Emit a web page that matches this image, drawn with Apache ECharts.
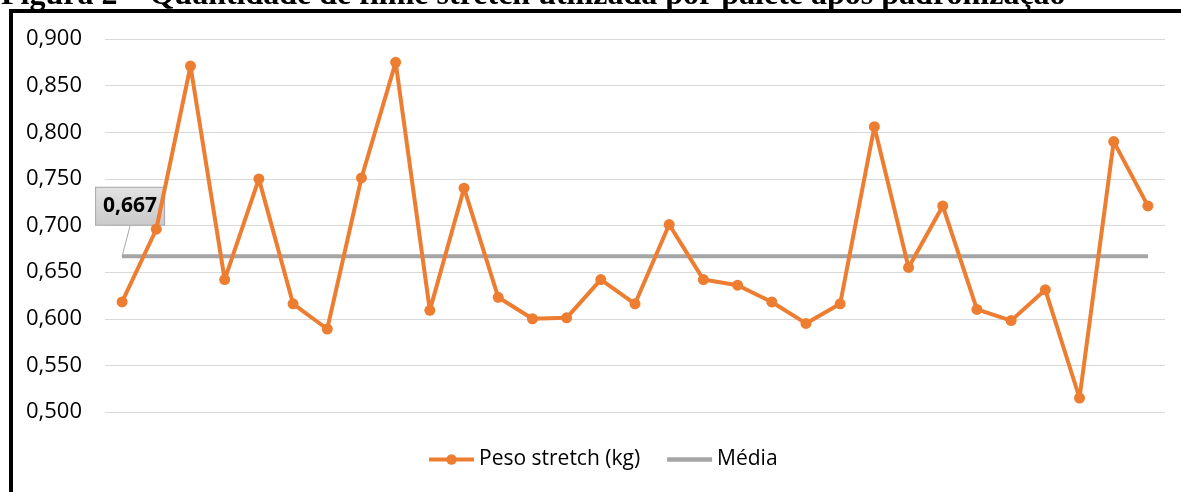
<!DOCTYPE html>
<html>
<head>
<meta charset="utf-8">
<script src="https://cdn.jsdelivr.net/npm/echarts@6/dist/echarts.min.js"></script>
<style>
  html, body { margin: 0; padding: 0; background: #ffffff; overflow: hidden; }
  #wrap { position: relative; width: 1181px; height: 492px; overflow: hidden; background: #fff; }
  #frame { position: absolute; left: 9px; top: 9px; width: 1300px; height: 600px; border: 4px solid #000; box-sizing: border-box; }
  #chart { position: absolute; left: 0; top: 0; width: 1181px; height: 492px; }
</style>
</head>
<body>
<div id="wrap">
  <div id="frame"></div>
  <div id="chart"></div>
</div>
<script>
// ---- data ----
const categories = ['1','2','3','4','5','6','7','8','9','10','11','12','13','14','15','16','17','18','19','20','21','22','23','24','25','26','27','28','29','30','31'];
const pesoStretch = [0.618, 0.696, 0.871, 0.642, 0.750, 0.616, 0.589, 0.751, 0.875, 0.609,
                     0.740, 0.623, 0.600, 0.601, 0.642, 0.616, 0.701, 0.642, 0.636, 0.618,
                     0.595, 0.616, 0.806, 0.655, 0.721, 0.610, 0.598, 0.631, 0.515, 0.790, 0.721];
const media = [0.667, 0.667, 0.667, 0.667, 0.667, 0.667, 0.667, 0.667, 0.667, 0.667,
               0.667, 0.667, 0.667, 0.667, 0.667, 0.667, 0.667, 0.667, 0.667, 0.667,
               0.667, 0.667, 0.667, 0.667, 0.667, 0.667, 0.667, 0.667, 0.667, 0.667, 0.667];
const seriesNames = ['Peso stretch (kg)', 'Média'];
const titleText = 'Figura 2 – Quantidade de filme stretch utilizada por palete após padronização';
const yMin = 0.5, yMax = 0.9, yStep = 0.05;

const fmt = v => v.toFixed(3).replace('.', ',');

const chart = echarts.init(document.getElementById('chart'), null, { renderer: 'canvas' });
const mediaData = media.map((v, i) => i === 0 ? {
  value: v,
  label: {
    show: true,
    position: 'inside',
    formatter: p => fmt(p.value),
    fontFamily: 'Open Sans',
    fontWeight: 'bold',
    fontSize: 21,
    lineHeight: 26,
    color: '#000',
    padding: [6, 7, 5, 7],
    borderColor: '#a6a6a6',
    borderWidth: 1,
    backgroundColor: {
      type: 'linear', x: 0, y: 0, x2: 0, y2: 1,
      colorStops: [{ offset: 0, color: '#e2e2e2' }, { offset: 1, color: '#c9c9c9' }]
    }
  }
} : v);

chart.setOption({
  animation: false,
  backgroundColor: 'transparent',
  title: {
    text: titleText,
    left: -4,
    top: -25,
    textStyle: { fontFamily: 'Liberation Serif', fontWeight: 'bold', fontSize: 32, color: '#000' }
  },
  grid: { left: 105, right: 16, top: 39, bottom: 80 },
  legend: {
    data: [
      { name: seriesNames[0] },
      { name: seriesNames[1], icon: 'path://M0 0H40V4H0Z' }
    ],
    bottom: 17,
    left: 422,
    itemWidth: 45,
    itemHeight: 13,
    itemGap: 27,
    lineStyle: { width: 4 },
    textStyle: { fontFamily: 'Open Sans', fontSize: 21, color: '#000' }
  },
  xAxis: {
    type: 'category',
    data: categories,
    boundaryGap: true,
    axisLine: { show: false },
    axisTick: { show: false },
    axisLabel: { show: false },
    splitLine: { show: false }
  },
  yAxis: {
    type: 'value',
    min: yMin,
    max: yMax,
    interval: yStep,
    axisLine: { show: false },
    axisTick: { show: false },
    axisLabel: { formatter: fmt, fontFamily: 'Open Sans', fontSize: 22, color: '#000', margin: 23 },
    splitLine: { lineStyle: { color: '#d9d9d9', width: 1 } }
  },
  series: [
    {
      name: seriesNames[0],
      type: 'line',
      data: pesoStretch,
      symbol: 'circle',
      symbolSize: 11,
      showSymbol: true,
      z: 3,
      itemStyle: { color: '#ED7D31' },
      lineStyle: { color: '#ED7D31', width: 4 }
    },
    {
      name: seriesNames[1],
      type: 'line',
      data: mediaData,
      symbol: 'circle',
      symbolSize: 1,
      showSymbol: true,
      z: 2,
      itemStyle: { color: '#A5A5A5' },
      lineStyle: { color: '#A5A5A5', width: 4 },
      labelLayout: p => p.dataIndex === 0 ? { dx: 8, dy: -50 } : {},
      labelLine: { show: true, lineStyle: { color: '#a6a6a6', width: 1 } }
    }
  ]
});
</script>
</body>
</html>
